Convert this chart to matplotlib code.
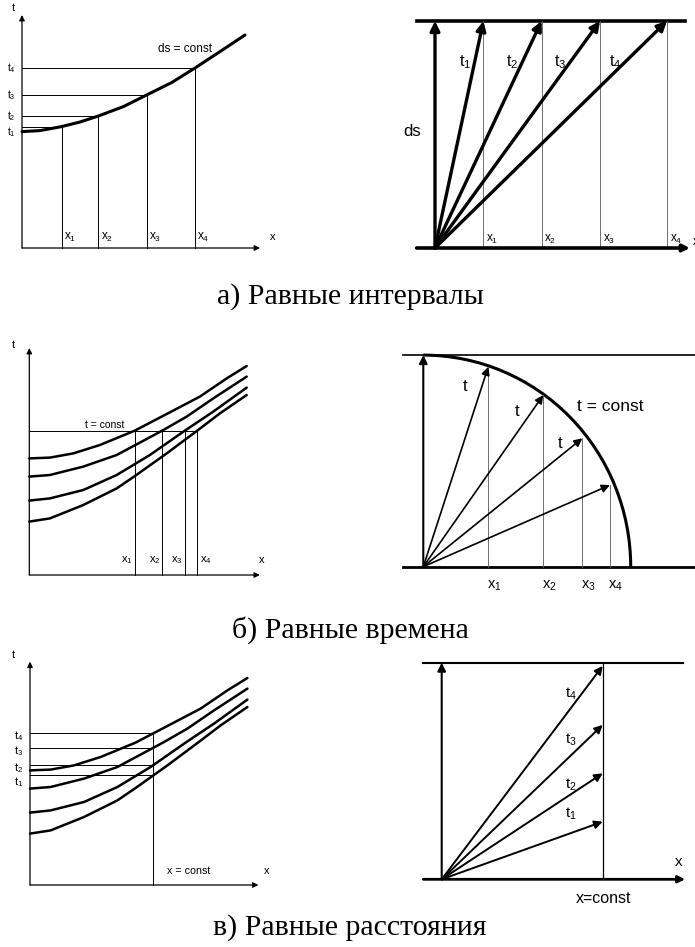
import numpy as np
import matplotlib
matplotlib.use("Agg")
import matplotlib.pyplot as plt
from matplotlib.patches import Arc

plt.rcParams["font.family"] = ["Liberation Sans", "DejaVu Sans"]

# -------------------------- SETTINGS ----------------------------
W, H = 695, 947   # pixels
DPI = 100
SCALE = 20.0      # pixels per data unit in every panel

# ----------------------------- DATA -----------------------------
# a) equal intervals: one travel-time curve, picked points, rays
a_curve_x = [0, 0.9, 1.98, 2.9, 3.82, 5.07, 6.23, 7.48, 8.65, 9.9, 11.15]
a_curve_t = [5.82, 5.87, 6.07, 6.3, 6.6, 7.07, 7.65, 8.27, 9.0, 9.82, 10.65]
a_pick_x = [1.98, 3.82, 6.23, 8.65]
a_ray_x = [2.42, 5.33, 8.25, 11.6]
a_ds = 11.35

# б) / в) family of four curves
curve1_x = [0, 1.03, 2.2, 3.53, 5.28, 6.87, 8.53, 9.87, 10.87]
curve1_t = [5.83, 5.87, 6.08, 6.5, 7.22, 8.05, 8.92, 9.83, 10.45]
curve2_x = [0, 1.03, 2.7, 4.37, 6.65, 7.87, 9.2, 10.87]
curve2_t = [4.92, 5.0, 5.42, 6.0, 7.22, 7.92, 8.83, 9.92]
curve3_x = [0, 1.03, 2.7, 4.37, 6.03, 7.78, 9.2, 10.87]
curve3_t = [3.72, 3.83, 4.25, 5.0, 6.0, 7.22, 8.17, 9.37]
curve4_x = [0, 1.03, 2.7, 4.37, 5.28, 6.87, 8.4, 9.53, 10.87]
curve4_t = [2.67, 2.83, 3.5, 4.33, 4.95, 6.08, 7.22, 8.08, 9.0]
family = [(curve1_x, curve1_t), (curve2_x, curve2_t),
          (curve3_x, curve3_t), (curve4_x, curve4_t)]

b_t_const = 7.22
b_ray_x = [3.25, 6.0, 7.95, 9.33]
b_ray_y = [10.0, 8.58, 6.42, 4.08]
b_radius_x = 10.37
b_radius_y = 10.58

c_t_shift = -0.1
c_x_const = 6.17
c_ray_t = [2.88, 5.3, 7.72, 10.67]
c_x_const_right = 8.05
c_top = 10.83

t_labels = [r"$\mathregular{t_%d}$" % i for i in (1, 2, 3, 4)]
x_labels = [r"$\mathregular{x_%d}$" % i for i in (1, 2, 3, 4)]
captions = ["а) Равные интервалы", "б) Равные времена", "в) Равные расстояния"]

# ------------------------- HELPERS ------------------------------
fig = plt.figure(figsize=(W / DPI, H / DPI), dpi=DPI)


def make_ax(box, origin):
    # box = (left, top, right, bottom) in pixels, origin = pixel of data (0, 0)
    l, t, r, b = box
    ax = fig.add_axes([l / W, 1 - b / H, (r - l) / W, (b - t) / H])
    ox, oy = origin
    ax.set_xlim((l - ox) / SCALE, (r - ox) / SCALE)
    ax.set_ylim((oy - b) / SCALE, (oy - t) / SCALE)
    ax.axis("off")
    return ax


def arrow(ax, start, end, lw=1.0, head=10):
    ax.annotate("", xy=end, xytext=start,
                arrowprops=dict(arrowstyle="-|>", lw=lw, color="black",
                                mutation_scale=head, shrinkA=0, shrinkB=0))


def axes_lines(ax, xmax, tmax):
    arrow(ax, (0, 0), (0, tmax), lw=0.9, head=8)
    arrow(ax, (0, 0), (xmax, 0), lw=0.9, head=8)


def thin(ax, xs, ys, lw=0.7, color="black"):
    ax.plot(xs, ys, lw=lw, color=color)


def curve(ax, xs, ts, lw=1.8):
    ax.plot(xs, ts, lw=lw, color="black", solid_capstyle="round",
            solid_joinstyle="round")


# --------------------- a) LEFT: t(x) curve ----------------------
ax1 = make_ax((0, 0, 290, 262), (22, 248))
axes_lines(ax1, 11.9, 11.65)
a_pick_t = np.interp(a_pick_x, a_curve_x, a_curve_t)
for i, (x, t) in enumerate(zip(a_pick_x, a_pick_t)):
    thin(ax1, [0, x], [t, t])
    thin(ax1, [x, x], [0, t])
    ax1.text(-0.55, t - (0.25 if i == 0 else 0.0), t_labels[i], fontsize=7.5,
             ha="center", va="center")
    ax1.text(x + 0.12, 0.55, x_labels[i], fontsize=8.5, ha="left", va="center")
curve(ax1, a_curve_x, a_curve_t, lw=2.2)
ax1.text(-0.45, 12.0, "t", fontsize=8, ha="center", va="center")
ax1.text(12.55, 0.55, "x", fontsize=8, ha="center", va="center")
ax1.text(8.15, 9.95, "ds = const", fontsize=8.5, ha="center", va="center")

# --------------------- a) RIGHT: rays to ds ---------------------
ax2 = make_ax((380, 0, 695, 262), (435, 248))
ax2.plot([-0.92, 12.5], [a_ds, a_ds], lw=2.6, color="black")
arrow(ax2, (-0.92, 0), (12.75, 0), lw=2.6, head=10)
for x in a_ray_x:
    thin(ax2, [x, x], [0, a_ds], lw=0.6, color="0.35")
arrow(ax2, (0, 0), (0, a_ds), lw=2.4, head=14)
for i, x in enumerate(a_ray_x):
    arrow(ax2, (0, 0), (x, a_ds), lw=2.4, head=14)
    ax2.text(0.82 * x - 0.5, 0.82 * a_ds, t_labels[i], fontsize=11.5,
             ha="center", va="center")
    ax2.text(x + 0.45, 0.45, x_labels[i], fontsize=8.5, ha="center", va="center")
ax2.text(-1.15, 5.8, "ds", fontsize=12, ha="center", va="center")
ax2.text(12.9, 0.3, "x", fontsize=9, ha="left", va="center")

# --------------------- б) LEFT: curve family --------------------
ax3 = make_ax((0, 335, 290, 590), (29.3, 575))
axes_lines(ax3, 11.53, 11.35)
b_cross_x = [np.interp(b_t_const, ct, cx) for cx, ct in family]
thin(ax3, [0, max(b_cross_x)], [b_t_const, b_t_const])
for i, x in enumerate(b_cross_x):
    thin(ax3, [x, x], [0, b_t_const])
    if i < 3:
        ax3.text(x - 0.1, 0.75, x_labels[i], fontsize=8, ha="right", va="center")
    else:
        ax3.text(x + 0.12, 0.75, x_labels[i], fontsize=8, ha="left", va="center")
for cx, ct in family:
    curve(ax3, cx, ct)
ax3.text(3.78, 7.5, "t = const", fontsize=7.5, ha="center", va="center")
ax3.text(-0.8, 11.5, "t", fontsize=8, ha="center", va="center")
ax3.text(11.62, 0.75, "x", fontsize=8, ha="center", va="center")

# --------------------- б) RIGHT: circle t = const ---------------
ax4 = make_ax((380, 335, 695, 600), (423.3, 566.7))
ax4.plot([-1.0, 13.7], [b_radius_y, b_radius_y], lw=1.2, color="black")
ax4.plot([-1.0, 13.7], [0, 0], lw=2.0, color="black")
ax4.add_patch(Arc((0, 0), 2 * b_radius_x, 2 * b_radius_y, theta1=0, theta2=90,
                  lw=2.2, color="black"))
arrow(ax4, (0, 0), (0, b_radius_y), lw=1.5, head=12)
for i, (x, y) in enumerate(zip(b_ray_x, b_ray_y)):
    thin(ax4, [x, x], [0, y], lw=0.6, color="0.35")
    arrow(ax4, (0, 0), (x, y), lw=1.2, head=12)
    ax4.text(x + 0.3, -0.95, x_labels[i], fontsize=10.5, ha="center", va="center")
for pos in [(2.08, 9.0), (4.67, 7.75), (6.83, 6.17)]:
    ax4.text(pos[0], pos[1], "t", fontsize=12, ha="center", va="center")
ax4.text(7.67, 8.03, "t = const", fontsize=12.5, ha="left", va="center")

# --------------------- в) LEFT: x = const -----------------------
ax5 = make_ax((0, 645, 290, 900), (30, 885))
axes_lines(ax5, 11.42, 11.17)
c_levels = [np.interp(c_x_const, cx, ct) + c_t_shift for cx, ct in family][::-1]
thin(ax5, [c_x_const, c_x_const], [0, max(c_levels)])
for i, t in enumerate(c_levels):
    thin(ax5, [0, c_x_const], [t, t])
    ax5.text(-0.55, t - (0.35 if i == 0 else 0.15), t_labels[i], fontsize=8,
             ha="center", va="center")
for cx, ct in family:
    curve(ax5, cx, np.array(ct) + c_t_shift)
ax5.text(7.92, 0.7, "x = const", fontsize=7.7, ha="center", va="center")
ax5.text(-0.83, 11.5, "t", fontsize=8, ha="center", va="center")
ax5.text(11.83, 0.7, "x", fontsize=8, ha="center", va="center")

# --------------------- в) RIGHT: rays to x = const --------------
ax6 = make_ax((380, 645, 695, 910), (441.7, 879.3))
ax6.plot([-0.92, 12.08], [c_top, c_top], lw=1.5, color="black")
arrow(ax6, (-0.92, 0), (12.17, 0), lw=2.0, head=10)
thin(ax6, [c_x_const_right, c_x_const_right], [0, c_top], lw=0.9)
arrow(ax6, (0, 0), (0, c_top), lw=1.5, head=12)
for i, (t, ly) in enumerate(zip(c_ray_t, [3.3, 4.72, 6.97, 9.3])):
    arrow(ax6, (0, 0), (c_x_const_right, t), lw=1.4, head=12)
    ax6.text(6.45, ly, t_labels[i], fontsize=11, ha="center", va="center")
ax6.text(11.83, 0.88, "x", fontsize=11, ha="center", va="center")
ax6.text(8.08, -0.95, "x=const", fontsize=11.5, ha="center", va="center")

# -------------------------- CAPTIONS ----------------------------
for caption, y in zip(captions, [297, 630, 928]):
    fig.text(350 / W, 1 - y / H, caption, fontsize=21.5, ha="center", va="center",
             family=["Liberation Serif", "DejaVu Serif"])

fig.savefig("out.png", dpi=DPI)
